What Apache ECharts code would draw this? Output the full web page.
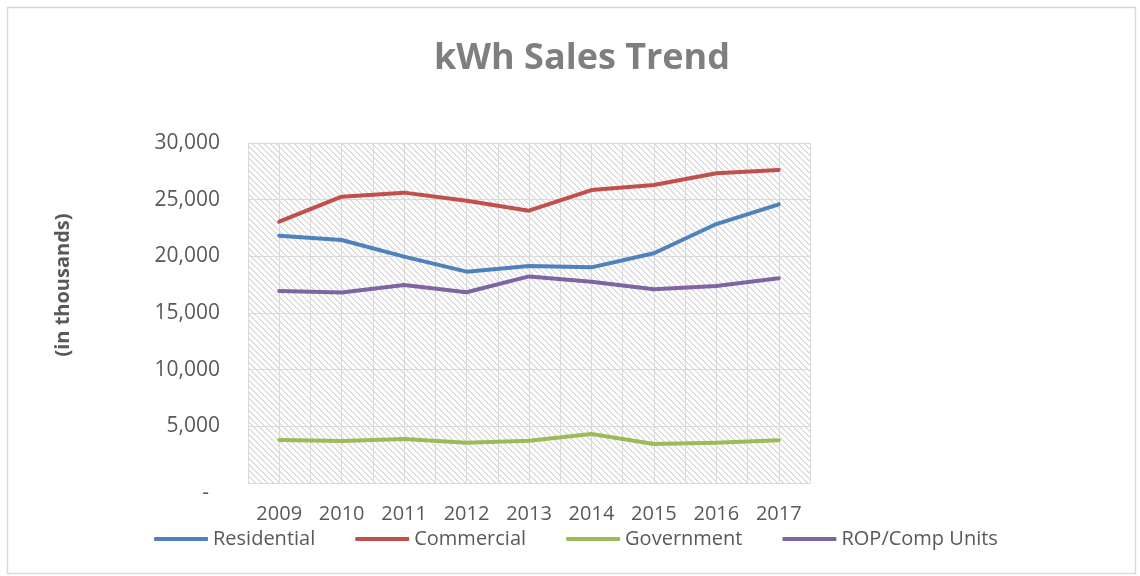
<!DOCTYPE html>
<html>
<head>
<meta charset="utf-8">
<script src="https://cdn.jsdelivr.net/npm/echarts@6/dist/echarts.min.js"></script>
<style>
  html, body { margin: 0; padding: 0; background: #ffffff; }
  #chart { width: 1140px; height: 576px; }
</style>
</head>
<body>
<div id="chart"></div>
<script>
const categories = ['2009', '2010', '2011', '2012', '2013', '2014', '2015', '2016', '2017'];
const residential = [21820, 21440, 19970, 18650, 19150, 19030, 20270, 22850, 24590];
const commercial = [23060, 25260, 25620, 24910, 24030, 25850, 26290, 27330, 27620];
const government = [3790, 3700, 3880, 3560, 3730, 4320, 3440, 3560, 3770];
const ropComp = [16940, 16800, 17470, 16830, 18230, 17760, 17090, 17380, 18060];
const seriesNames = ['Residential', 'Commercial', 'Government', 'ROP/Comp Units'];
const seriesColors = ['#4F81BD', '#C0504D', '#9BBB59', '#8064A2'];
const yTicks = [0, 5000, 10000, 15000, 20000, 25000, 30000];

// hatch pattern for plot area
const tile = document.createElement('canvas');
const N = 6;
tile.width = N; tile.height = N;
const tctx = tile.getContext('2d');
tctx.fillStyle = '#ffffff';
tctx.fillRect(0, 0, N, N);
tctx.fillStyle = '#dedede';
for (let i = 0; i < N; i++) {
  tctx.fillRect(i, i, 1, 1);
  tctx.fillRect((i + 1) % N, i, 1, 1);
}

const seriesData = [residential, commercial, government, ropComp];
const chart = echarts.init(document.getElementById('chart'), null, { renderer: 'canvas' });
const FONT = '"Open Sans", "Noto Sans", sans-serif';

chart.setOption({
  animation: false,
  backgroundColor: '#ffffff',
  textStyle: { fontFamily: FONT },
  title: {
    text: 'kWh Sales Trend',
    left: 577,
    textAlign: 'center',
    top: 36,
    textStyle: { fontFamily: FONT, fontSize: 36, fontWeight: 'bold', color: '#7f7f7f' }
  },
  graphic: [
    {
      type: 'rect', left: 5, top: 5, silent: true,
      shape: { width: 1128, height: 566 },
      style: { fill: 'none', stroke: '#d9d9d9', lineWidth: 1.5 }
    },
    {
      type: 'text', x: 63, y: 285, rotation: Math.PI / 2, silent: true,
      style: {
        text: '(in thousands)', fill: '#595959', font: 'bold 20px ' + FONT,
        align: 'center', verticalAlign: 'middle'
      }
    }
  ],
  legend: {
    left: 149,
    top: 524,
    icon: 'roundRect',
    itemWidth: 54,
    itemHeight: 4,
    itemGap: 40,
    textStyle: { fontFamily: FONT, fontSize: 20, color: '#595959' },
    data: seriesNames
  },
  grid: {
    left: 248, right: 330, top: 143, bottom: 93,
    show: true,
    borderWidth: 0,
    backgroundColor: { image: tile, repeat: 'repeat' }
  },
  xAxis: {
    type: 'value',
    min: 2008.5,
    max: 2017.5,
    interval: 0.5,
    axisLine: { show: true, lineStyle: { color: '#d9d9d9', width: 1 } },
    axisTick: { show: false },
    splitLine: { show: true, lineStyle: { color: '#d9d9d9', width: 1 } },
    axisLabel: {
      margin: 21,
      fontSize: 20,
      color: '#595959',
      fontFamily: FONT,
      showMinLabel: true,
      showMaxLabel: true,
      formatter: function (v) {
        const s = String(Math.round(v));
        return (Math.abs(v - Math.round(v)) < 1e-6 && categories.indexOf(s) >= 0) ? s : '';
      }
    }
  },
  yAxis: {
    type: 'value',
    min: yTicks[0],
    max: yTicks[yTicks.length - 1],
    interval: 5000,
    axisLine: { show: false },
    axisTick: { show: false },
    splitLine: { show: true, lineStyle: { color: '#d9d9d9', width: 1 } },
    axisLabel: {
      margin: 28,
      fontSize: 21,
      color: '#595959',
      fontFamily: FONT,
      formatter: function (v) {
        if (v === 0) return '{dash|-}';
        return v.toLocaleString('en-US');
      },
      rich: {
        dash: { fontSize: 21, color: '#595959', fontFamily: FONT, padding: [20, 11, 0, 0] }
      }
    }
  },
  series: seriesNames.map(function (name, i) {
    return {
      name: name,
      type: 'line',
      showSymbol: false,
      symbol: 'none',
      color: seriesColors[i],
      lineStyle: { width: 4, color: seriesColors[i], cap: 'round', join: 'round' },
      data: categories.map(function (c, j) { return [Number(c), seriesData[i][j]]; })
    };
  })
});
</script>
</body>
</html>
